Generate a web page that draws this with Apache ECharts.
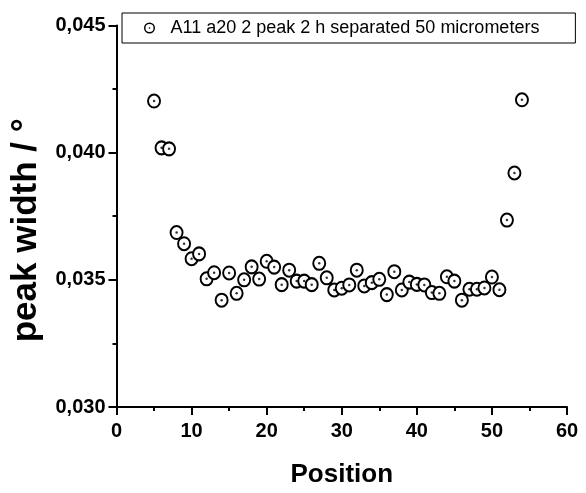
<!DOCTYPE html>
<html>
<head>
<meta charset="utf-8">
<script src="https://cdn.jsdelivr.net/npm/echarts@6/dist/echarts.min.js"></script>
<style>
  html, body { margin: 0; padding: 0; background: #fff; }
  #chart { width: 586px; height: 493px; }
</style>
</head>
<body>
<div id="chart"></div>
<script>
// Measurement positions along the sample
const positions = [
  5, 6, 7, 8, 9, 10, 11, 12, 13, 14,
  15, 16, 17, 18, 19, 20, 21, 22, 23, 24,
  25, 26, 27, 28, 29, 30, 31, 32, 33, 34,
  35, 36, 37, 38, 39, 40, 41, 42, 43, 44,
  45, 46, 47, 48, 49, 50, 51, 52, 53, 54
];

// Fitted peak width (degrees) at each position
const peakWidths = [
  0.04203, 0.04019, 0.04015, 0.03686, 0.03642, 0.03583, 0.03602, 0.03504, 0.03528, 0.03420,
  0.03527, 0.03447, 0.03500, 0.03551, 0.03503, 0.03573, 0.03550, 0.03481, 0.03538, 0.03495,
  0.03495, 0.03481, 0.03565, 0.03508, 0.03460, 0.03467, 0.03480, 0.03538, 0.03476, 0.03489,
  0.03502, 0.03442, 0.03532, 0.03460, 0.03491, 0.03482, 0.03480, 0.03450, 0.03447, 0.03512,
  0.03495, 0.03420, 0.03463, 0.03463, 0.03468, 0.03511, 0.03461, 0.03735, 0.03920, 0.04208
];

const seriesName = 'A11 a20 2 peak 2 h separated 50 micrometers';

// Axis ranges and tick steps
const xRange = [0, 60];
const xStep = 10;
const yRange = [0.030, 0.045];
const yStep = 0.005;

const points = positions.map((p, i) => [p, peakWidths[i]]);

// Ring with a centre dot, used as the legend marker
const ringDot = 'path://M0,-6A6,6,0,1,1,0,6A6,6,0,1,1,0,-6Z' +
  'M0,-4.4A4.4,4.4,0,1,0,0,4.4A4.4,4.4,0,1,0,0,-4.4Z' +
  'M-0.9,0A0.9,0.9,0,1,0,0.9,0A0.9,0.9,0,1,0,-0.9,0Z';

const FONT = '"Liberation Sans", Arial, sans-serif';

const chart = echarts.init(document.getElementById('chart'), null, { renderer: 'canvas' });

chart.setOption({
  animation: false,
  backgroundColor: '#ffffff',
  grid: { left: 116.5, right: 19, top: 25.5, bottom: 82.5, containLabel: false },
  legend: {
    left: 122,
    top: 13,
    orient: 'horizontal',
    padding: [6, 36, 6, 22],
    itemWidth: 32,
    itemHeight: 11,
    backgroundColor: '#ffffff',
    borderColor: '#000000',
    borderWidth: 1,
    borderRadius: 0,
    textStyle: { fontFamily: FONT, fontSize: 18, color: '#000' },
    data: [{
      name: seriesName,
      icon: ringDot,
      itemStyle: { color: '#000', borderWidth: 0 }
    }]
  },
  xAxis: {
    type: 'value',
    min: xRange[0],
    max: xRange[1],
    interval: xStep,
    name: 'Position',
    nameLocation: 'middle',
    nameGap: 55,
    nameTextStyle: { fontFamily: FONT, fontSize: 26, fontWeight: 'bold', color: '#000' },
    axisLine: { onZero: false, lineStyle: { color: '#000', width: 2 } },
    axisTick: { show: true, inside: false, length: 8, lineStyle: { color: '#000', width: 2 } },
    minorTick: { show: true, splitNumber: 2, length: 4, lineStyle: { color: '#000', width: 2 } },
    axisLabel: { fontFamily: FONT, fontSize: 20, fontWeight: 'bold', color: '#000', margin: 14 },
    splitLine: { show: false }
  },
  yAxis: {
    type: 'value',
    min: yRange[0],
    max: yRange[1],
    interval: yStep,
    name: 'peak width / °',
    nameLocation: 'middle',
    nameRotate: 90,
    nameGap: 73,
    nameTextStyle: {
      fontFamily: FONT, fontSize: 35, fontWeight: 'bold', color: '#000',
      padding: [0, 28, 0, 0]
    },
    axisLine: { onZero: false, lineStyle: { color: '#000', width: 2 } },
    axisTick: { show: true, inside: false, length: 8, lineStyle: { color: '#000', width: 2 } },
    minorTick: { show: true, splitNumber: 2, length: 4, lineStyle: { color: '#000', width: 2 } },
    axisLabel: {
      fontFamily: FONT, fontSize: 20, fontWeight: 'bold', color: '#000', margin: 11,
      formatter: v => v.toFixed(3).replace('.', ',')
    },
    splitLine: { show: false }
  },
  series: [
    {
      name: seriesName,
      type: 'scatter',
      data: points,
      symbol: 'circle',
      symbolSize: [12, 13],
      itemStyle: { color: '#ffffff', borderColor: '#000000', borderWidth: 2, opacity: 1 },
      emphasis: { disabled: true },
      z: 2
    },
    {
      name: 'centre',
      type: 'scatter',
      data: points,
      symbol: 'circle',
      symbolSize: 2.5,
      itemStyle: { color: '#000000' },
      emphasis: { disabled: true },
      silent: true,
      z: 3
    }
  ]
});
</script>
</body>
</html>
